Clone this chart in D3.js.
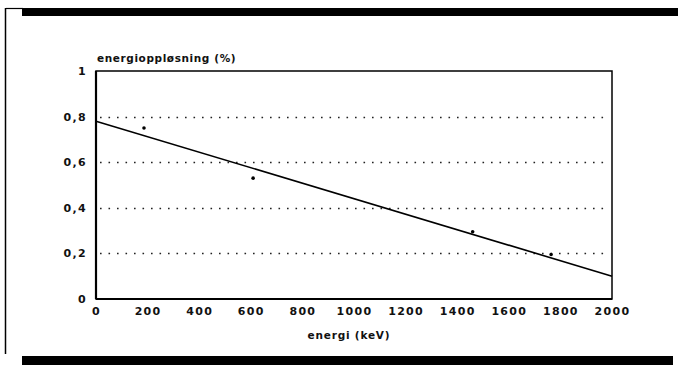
<!DOCTYPE html>
<html><head><meta charset="utf-8">
<script src="https://cdn.jsdelivr.net/npm/d3@7"></script>
<style>
html,body{margin:0;padding:0;background:#fff;}
svg text{font-family:"DejaVu Sans",sans-serif;font-weight:bold;fill:#111;}
</style></head>
<body>
<svg id="c" width="687" height="365"></svg>
<script>
// Data
const pointEnergy = [186, 609, 1460, 1764];      // keV
const pointRes    = [0.75, 0.53, 0.295, 0.195];  // energioppløsning
const fitEnergy   = [0, 2000];
const fitRes      = [0.78, 0.10];
const xTicks = [0,200,400,600,800,1000,1200,1400,1600,1800,2000];
const yTicks = [0,0.2,0.4,0.6,0.8,1];
const gridValues = [0.2,0.4,0.6,0.8];
const yTitle = "energioppløsning (%)";
const xTitle = "energi (keV)";

const svg = d3.select("#c");
const m = {l:96, r:612, t:71, b:299};
const x = d3.scaleLinear().domain([0,2000]).range([m.l,m.r]);
const y = d3.scaleLinear().domain([0,1]).range([m.b,m.t]);

// page frame
svg.append("rect").attr("x",22).attr("y",8).attr("width",656).attr("height",8).attr("fill","#000");
svg.append("line").attr("x1",6).attr("x2",23).attr("y1",8.5).attr("y2",8.5).attr("stroke","#000").attr("stroke-width",1.2);
svg.append("line").attr("x1",5.5).attr("x2",5.5).attr("y1",8).attr("y2",354).attr("stroke","#000").attr("stroke-width",1.5);
svg.append("rect").attr("x",22).attr("y",356).attr("width",651).attr("height",9).attr("fill","#000");

// dotted grid
svg.append("g").selectAll("line").data(gridValues).join("line")
  .attr("x1",m.l+4).attr("x2",m.r-2)
  .attr("y1",d=>Math.round(y(d))+0.5).attr("y2",d=>Math.round(y(d))+0.5)
  .attr("stroke","#222").attr("stroke-width",1.6).attr("stroke-dasharray","1.6,6.9");

// plot frame
svg.append("rect").attr("x",m.l).attr("y",m.t).attr("width",m.r-m.l).attr("height",m.b-m.t)
  .attr("fill","none").attr("stroke","#000").attr("stroke-width",1.5);
svg.append("line").attr("x1",m.l).attr("x2",m.l).attr("y1",m.t).attr("y2",m.b).attr("stroke","#000").attr("stroke-width",2.2);
svg.append("line").attr("x1",m.l).attr("x2",m.r).attr("y1",m.b).attr("y2",m.b).attr("stroke","#000").attr("stroke-width",2.2);

// axes (labels only)
const fmt = d => d3.format("~g")(d).replace(".",",");
const xAxis = d3.axisBottom(x).tickValues(xTicks).tickSize(0).tickPadding(8).tickFormat(d3.format("d"));
const gx = svg.append("g").attr("transform",`translate(0,${m.b})`).call(xAxis);
gx.select(".domain").remove();
gx.selectAll("text").attr("font-size",11).attr("letter-spacing",1.3).attr("font-family","DejaVu Sans").attr("font-weight","bold").attr("fill","#111");

const yAxis = d3.axisLeft(y).tickValues(yTicks).tickSize(0).tickPadding(9).tickFormat(fmt);
const gy = svg.append("g").attr("transform",`translate(${m.l},0)`).call(yAxis);
gy.select(".domain").remove();
gy.selectAll("text").attr("font-size",11).attr("letter-spacing",1.3).attr("font-family","DejaVu Sans").attr("font-weight","bold").attr("fill","#111");

// fit line
const line = d3.line().x(d=>x(d[0])).y(d=>y(d[1]));
svg.append("path").datum(fitEnergy.map((e,i)=>[e,fitRes[i]]))
  .attr("d",line).attr("fill","none").attr("stroke","#000").attr("stroke-width",1.6);

// points
svg.append("g").selectAll("circle").data(pointEnergy.map((e,i)=>[e,pointRes[i]])).join("circle")
  .attr("cx",d=>x(d[0])).attr("cy",d=>y(d[1])).attr("r",1.8).attr("fill","#000");

// titles
svg.append("text").attr("x",97).attr("y",62).attr("font-size",10.5).attr("letter-spacing",0.6).text(yTitle);
svg.append("text").attr("x",x(1000)-5).attr("y",339).attr("text-anchor","middle").attr("font-size",10.5).attr("letter-spacing",0.8).text(xTitle);
</script>
</body></html>
